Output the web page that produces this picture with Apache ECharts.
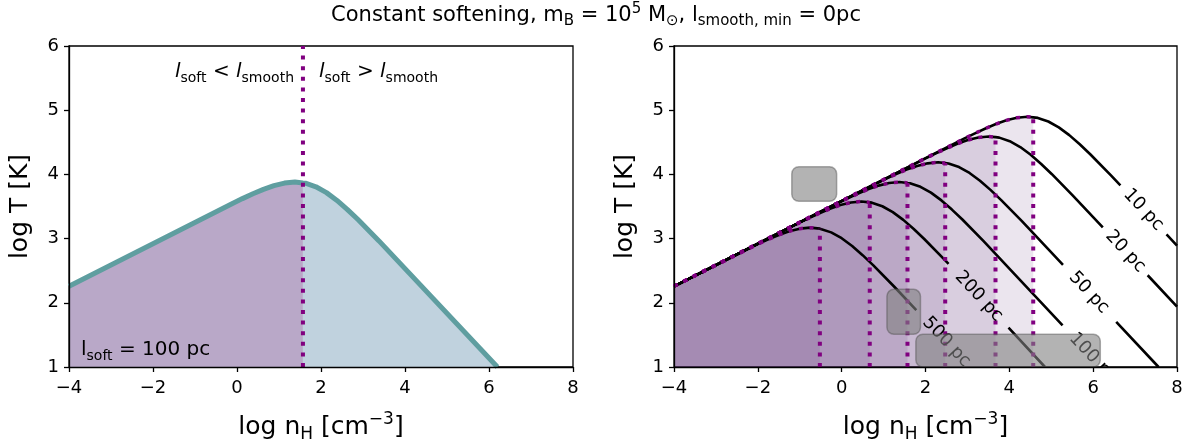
<!DOCTYPE html>
<html>
<head>
<meta charset="utf-8">
<script src="https://cdn.jsdelivr.net/npm/echarts@6/dist/echarts.min.js"></script>
<style>
  html, body { margin: 0; padding: 0; background: #fff; }
  #chart { width: 1192px; height: 448px; }
</style>
</head>
<body>
<div id="chart"></div>
<script>
// 曲线数据 (log n_H, log T), null = 标签留空
var curveNames = ['10 pc', '20 pc', '50 pc', '100 pc', '200 pc', '500 pc'];
var softX = [4.57, 3.67, 2.47, 1.57, 0.67, -0.52]; // l_soft = l_smooth

var curve10 = [[-4, 2.257], [2.93, 4.561], [3.18, 4.640], [3.43, 4.715], [3.68, 4.784], [3.93, 4.842],
  [4.18, 4.882], [4.43, 4.898], [4.57, 4.888], [4.68, 4.880], [4.93, 4.824], [5.18, 4.733], [5.43, 4.612],
  [5.68, 4.469], [5.93, 4.314], [6.43, 3.981], [6.65, 3.830], null, [7.75, 3.065], [8, 2.890]];
var curve20 = [[-4, 2.257], [2.01, 4.254], [2.26, 4.333], [2.51, 4.408], [2.76, 4.477], [3.01, 4.535],
  [3.26, 4.575], [3.51, 4.591], [3.67, 4.580], [3.76, 4.573], [4.01, 4.517], [4.26, 4.426], [4.51, 4.305],
  [4.76, 4.162], [5.01, 4.007], [5.51, 3.674], [6.23, 3.175], null, [7.3, 2.429], [8, 1.939]];
var curve50 = [[-4, 2.257], [0.8, 3.851], [1.05, 3.930], [1.3, 4.005], [1.55, 4.074], [1.8, 4.132],
  [2.05, 4.172], [2.3, 4.188], [2.47, 4.176], [2.55, 4.170], [2.8, 4.114], [3.05, 4.023], [3.3, 3.902],
  [3.55, 3.759], [3.8, 3.604], [4.3, 3.271], [5.28, 2.591], null, [6.55, 1.704], [7.56, 1.0]];
var curve100 = [[-4, 2.257], [-0.12, 3.544], [0.13, 3.623], [0.38, 3.698], [0.63, 3.767], [0.88, 3.825],
  [1.13, 3.865], [1.38, 3.881], [1.57, 3.867], [1.63, 3.863], [1.88, 3.807], [2.13, 3.716], [2.38, 3.595],
  [2.63, 3.452], [2.88, 3.297], [3.38, 2.964], [5.27, 1.649]];
var curve200 = [[-4, 2.257], [-1.03, 3.241], [-0.78, 3.320], [-0.53, 3.395], [-0.28, 3.464], [-0.03, 3.522],
  [0.22, 3.562], [0.47, 3.578], [0.67, 3.564], [0.72, 3.560], [0.97, 3.504], [1.22, 3.413], [1.47, 3.292],
  [1.72, 3.149], [1.97, 2.994], [2.47, 2.661], [2.55, 2.606], null, [3.98, 1.612], [4.85, 1.0]];
var curve500 = [[-4, 2.257], [-2.25, 2.834], [-2.0, 2.913], [-1.75, 2.988], [-1.5, 3.057], [-1.25, 3.115],
  [-1.0, 3.155], [-0.75, 3.171], [-0.52, 3.155], [-0.5, 3.153], [-0.25, 3.097], [0.0, 3.006], [0.25, 2.885],
  [0.5, 2.742], [0.75, 2.587], [1.25, 2.254], [1.78, 1.887]];
var curves = [curve10, curve20, curve50, curve100, curve200, curve500];

// 曲线标签中心
var labelX = [7.2, 6.77, 5.9, 6.0, 3.27, 2.5];
var labelY = [3.45, 2.80, 2.16, 1.14, 2.10, 1.39];

// 左图: l_soft = 100 pc
var leftCurve = [[-4, 2.257], [-0.12, 3.544], [0.13, 3.623], [0.38, 3.698], [0.63, 3.767], [0.88, 3.825],
  [1.13, 3.865], [1.38, 3.881], [1.57, 3.867], [1.63, 3.863], [1.88, 3.807], [2.13, 3.716], [2.38, 3.595],
  [2.63, 3.452], [2.88, 3.297], [3.38, 2.964], [6.2, 1.0]];
var leftSoftX = 1.57;

// 灰色方框 [x0, y0, x1, y1]
var boxes = [[-1.19, 3.58, -0.12, 4.12], [1.08, 1.51, 1.88, 2.21], [1.77, 1.0, 6.17, 1.51]];

var FONT = 'DejaVu Sans';
var PURPLE = '#800080';
var DOTS = [4, 6.6];
var LABEL_ROT = -47 * Math.PI / 180;

function upTo(c, xd) {
  return c.filter(function (p) { return p && p[0] <= xd + 1e-9; });
}
function fromX(c, xd) {
  return c.filter(function (p) { return p && p[0] >= xd - 1e-9; });
}
function yAt(c, xd) {
  for (var i = 0; i < c.length; i++) {
    if (c[i] && Math.abs(c[i][0] - xd) < 1e-9) return c[i][1];
  }
  return null;
}

var myChart = echarts.init(document.getElementById('chart'));

function xAxisOf(idx) {
  return {
    gridIndex: idx, type: 'value', min: -4, max: 8, interval: 2, z: 8,
    name: 'log n{sub|H} [cm{sup|\u22123}]',
    nameLocation: 'middle', nameGap: 44,
    nameTextStyle: {
      color: '#000', fontFamily: FONT, fontSize: 25, lineHeight: 32,
      rich: {
        sub: { fontFamily: FONT, fontSize: 17, lineHeight: 32, verticalAlign: 'bottom', color: '#000' },
        sup: { fontFamily: FONT, fontSize: 17, lineHeight: 32, verticalAlign: 'top', color: '#000' }
      }
    },
    axisLine: { show: true, onZero: false, lineStyle: { color: '#000', width: 1.3 } },
    axisTick: { show: true, length: 5, lineStyle: { color: '#000', width: 1.3 } },
    axisLabel: {
      color: '#000', fontFamily: FONT, fontSize: 18, margin: 12,
      formatter: function (v) { return String(v).replace('-', '\u2212'); }
    },
    splitLine: { show: false }
  };
}
function yAxisOf(idx) {
  return {
    gridIndex: idx, type: 'value', min: 1, max: 6, interval: 1, z: 8,
    name: 'log T [K]', nameLocation: 'middle', nameGap: 36,
    nameTextStyle: { color: '#000', fontFamily: FONT, fontSize: 25 },
    axisLine: { show: true, onZero: false, lineStyle: { color: '#000', width: 1.3 } },
    axisTick: { show: true, length: 5, lineStyle: { color: '#000', width: 1.3 } },
    axisLabel: { color: '#000', fontFamily: FONT, fontSize: 18, margin: 10 },
    splitLine: { show: false }
  };
}

function line(idx, data, lineStyle, extra) {
  var s = {
    type: 'line', xAxisIndex: idx, yAxisIndex: idx, data: data,
    symbol: 'none', showSymbol: false, silent: true, animation: false,
    connectNulls: false, lineStyle: lineStyle, z: 3
  };
  for (var k in extra) s[k] = extra[k];
  return s;
}

var series = [];

// 左图
series.push(line(0, upTo(leftCurve, leftSoftX), { width: 0, opacity: 0 },
  { areaStyle: { color: '#b9a8c8', opacity: 1, origin: 'start' }, z: 1 }));
series.push(line(0, fromX(leftCurve, leftSoftX), { width: 0, opacity: 0 },
  { areaStyle: { color: '#c0d2de', opacity: 1, origin: 'start' }, z: 1 }));
series.push(line(0, leftCurve, { color: '#5f9ea0', width: 5 }, { z: 3 }));
series.push(line(0, [[leftSoftX, 1], [leftSoftX, 6]], { color: PURPLE, width: 4, type: DOTS }, { z: 4 }));

// 右图: 填充
for (var i = 0; i < curves.length; i++) {
  series.push(line(1, upTo(curves[i], softX[i]), { width: 0, opacity: 0 },
    { areaStyle: { color: 'rgba(93,51,120,0.125)', opacity: 1, origin: 'start' }, z: 1 }));
}
// 曲线
for (i = 0; i < curves.length; i++) {
  series.push(line(1, curves[i], { color: '#000', width: 2.6 }, { z: 3 }));
}
// 紫色点线
for (i = 0; i < curves.length; i++) {
  series.push(line(1, upTo(curves[i], softX[i]), { color: PURPLE, width: 3.5, type: DOTS }, { z: 4 }));
  series.push(line(1, [[softX[i], 1], [softX[i], yAt(curves[i], softX[i])]],
    { color: PURPLE, width: 4, type: DOTS }, { z: 4 }));
}
// 曲线标签
series.push({
  type: 'custom', xAxisIndex: 1, yAxisIndex: 1, clip: true, z: 5, silent: true, animation: false,
  data: labelX.map(function (x, k) { return [x, labelY[k]]; }),
  renderItem: function (params, api) {
    var p = api.coord([api.value(0), api.value(1)]);
    return {
      type: 'text', x: p[0], y: p[1], rotation: LABEL_ROT,
      style: {
        text: curveNames[params.dataIndex], fill: '#000', fontFamily: FONT, fontSize: 18,
        align: 'center', verticalAlign: 'middle'
      }
    };
  }
});
// 灰色方框
series.push({
  type: 'custom', xAxisIndex: 1, yAxisIndex: 1, clip: true, z: 6, silent: true, animation: false,
  data: boxes,
  renderItem: function (params, api) {
    var p0 = api.coord([api.value(0), api.value(3)]);
    var p1 = api.coord([api.value(2), api.value(1)]);
    return {
      type: 'rect',
      shape: { x: p0[0], y: p0[1], width: p1[0] - p0[0], height: p1[1] - p0[1], r: 7 },
      style: { fill: 'rgba(128,128,128,0.6)', stroke: 'rgba(80,80,80,0.45)', lineWidth: 1.5 }
    };
  }
});

var subRich = {
  i: { fontFamily: FONT, fontStyle: 'italic', fontSize: 20, lineHeight: 26 },
  n: { fontFamily: FONT, fontSize: 20, lineHeight: 26 },
  s: { fontFamily: FONT, fontSize: 14, lineHeight: 26, verticalAlign: 'bottom' }
};

var option = {
  backgroundColor: '#fff',
  animation: false,
  title: {
    text: 'Constant softening, m{sub|B} = 10{sup|5} M{sub|\u2299}, l{sub|smooth, min} = 0pc',
    left: 'center', top: -3,
    textStyle: {
      color: '#000', fontFamily: FONT, fontSize: 21, fontWeight: 'normal', lineHeight: 27,
      rich: {
        sub: { fontFamily: FONT, fontSize: 15, lineHeight: 27, verticalAlign: 'bottom', color: '#000' },
        sup: { fontFamily: FONT, fontSize: 15, lineHeight: 27, verticalAlign: 'top', color: '#000' }
      }
    }
  },
  grid: [
    { left: 69, top: 46, width: 504, height: 323, show: true, borderColor: '#000', borderWidth: 1.3, backgroundColor: 'transparent' },
    { left: 674, top: 46, width: 503, height: 323, show: true, borderColor: '#000', borderWidth: 1.3, backgroundColor: 'transparent' }
  ],
  xAxis: [xAxisOf(0), xAxisOf(1)],
  yAxis: [yAxisOf(0), yAxisOf(1)],
  graphic: [
    {
      type: 'text', x: 294, y: 72, z: 10,
      style: { text: '{i|l}{s|soft} < {i|l}{s|smooth}', fill: '#000', fontFamily: FONT, fontSize: 20,
        align: 'right', verticalAlign: 'middle', rich: subRich }
    },
    {
      type: 'text', x: 319, y: 72, z: 10,
      style: { text: '{i|l}{s|soft} > {i|l}{s|smooth}', fill: '#000', fontFamily: FONT, fontSize: 20,
        align: 'left', verticalAlign: 'middle', rich: subRich }
    },
    {
      type: 'text', x: 81, y: 350, z: 10,
      style: { text: '{n|l}{s|soft} = 100 pc', fill: '#000', fontFamily: FONT, fontSize: 20,
        align: 'left', verticalAlign: 'middle', rich: subRich }
    }
  ],
  series: series
};

myChart.setOption(option);
</script>
</body>
</html>
